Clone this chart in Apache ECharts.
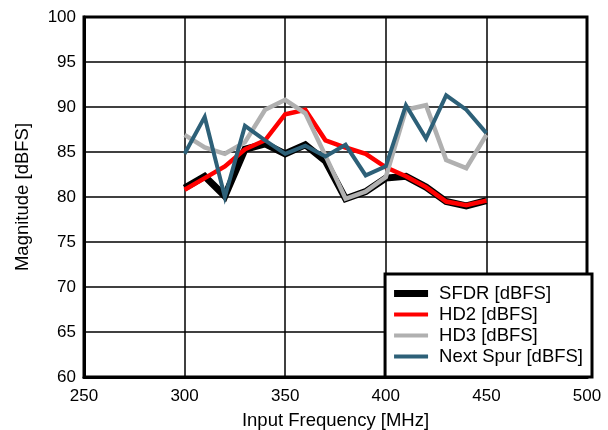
<!DOCTYPE html>
<html>
<head>
<meta charset="utf-8">
<script src="https://cdn.jsdelivr.net/npm/echarts@6/dist/echarts.min.js"></script>
<style>
  html, body { margin: 0; padding: 0; background: #fff; }
  #chart { width: 608px; height: 430px; }
</style>
</head>
<body>
<div id="chart"></div>
<script>
// Input frequency (MHz)
const freq = [300, 310, 320, 330, 340, 350, 360, 370, 380, 390, 400, 410, 420, 430, 440, 450];
// Magnitudes (dBFS)
const sfdr = [81.0, 82.3, 80.1, 85.3, 85.9, 84.8, 85.8, 84.0, 79.8, 80.6, 82.1, 82.3, 81.1, 79.5, 79.0, 79.6];
const hd2 = [80.8, 82.1, 83.4, 85.3, 86.3, 89.2, 89.7, 86.3, 85.5, 84.8, 83.3, 82.3, 81.1, 79.5, 79.1, 79.6];
const hd3 = [86.9, 85.5, 84.8, 86.1, 89.7, 90.8, 89.3, 84.6, 79.8, 80.6, 82.2, 89.7, 90.2, 84.1, 83.2, 86.9];
const nextSpur = [84.8, 88.9, 80.0, 87.9, 86.3, 84.8, 85.7, 84.5, 85.8, 82.4, 83.4, 90.2, 86.5, 91.3, 89.7, 87.1];

const seriesNames = ['SFDR [dBFS]', 'HD2 [dBFS]', 'HD3 [dBFS]', 'Next Spur [dBFS]'];

function pairs(ys) {
  return freq.map((f, i) => [f, ys[i]]);
}

function lineSeries(name, ys, color, width) {
  return {
    name: name,
    type: 'line',
    data: pairs(ys),
    symbol: 'none',
    lineStyle: { color: color, width: width, join: 'miter' },
    itemStyle: { color: color },
    emphasis: { disabled: true }
  };
}

// legend swatch: a flat bar, thickness follows the series line
function swatch(h) {
  return 'path://M0,0 L34,0 L34,' + h + ' L0,' + h + ' Z';
}

const font = 'Liberation Sans, Arial, sans-serif';

let myChart = echarts.init(document.getElementById('chart'));
myChart.setOption({
  animation: false,
  grid: {
    left: 84, right: 21, top: 17, bottom: 53,
    outerBoundsMode: 'none',
    containLabel: false,
    show: true, borderColor: '#000', borderWidth: 3, backgroundColor: 'transparent'
  },
  xAxis: {
    type: 'value',
    min: 250, max: 500, interval: 50,
    name: 'Input Frequency [MHz]',
    nameLocation: 'middle',
    nameGap: 34,
    nameTextStyle: { fontFamily: font, fontSize: 18.5, color: '#000' },
    axisLine: { show: true, lineStyle: { color: '#000', width: 3 } },
    axisTick: { show: false },
    axisLabel: { fontFamily: font, fontSize: 17, color: '#000', margin: 11 },
    splitLine: { show: true, lineStyle: { color: '#000', width: 1.5 } }
  },
  yAxis: {
    type: 'value',
    min: 60, max: 100, interval: 5,
    name: 'Magnitude [dBFS]',
    nameLocation: 'middle',
    nameGap: 52,
    nameTextStyle: { fontFamily: font, fontSize: 18.5, color: '#000' },
    axisLine: { show: true, lineStyle: { color: '#000', width: 3 } },
    axisTick: { show: false },
    axisLabel: { fontFamily: font, fontSize: 17, color: '#000', margin: 8 },
    splitLine: { show: true, lineStyle: { color: '#000', width: 1.5 } }
  },
  legend: {
    orient: 'vertical',
    right: 16,
    bottom: 53,
    backgroundColor: '#fff',
    borderColor: '#000',
    borderWidth: 3,
    borderRadius: 0,
    padding: [9, 9, 10, 9],
    itemWidth: 34,
    itemHeight: 14,
    itemGap: 0,
    data: [
      { name: seriesNames[0], icon: swatch(7) },
      { name: seriesNames[1], icon: swatch(4) },
      { name: seriesNames[2], icon: swatch(4) },
      { name: seriesNames[3], icon: swatch(4) }
    ],
    textStyle: { fontFamily: font, fontSize: 18.5, lineHeight: 21, color: '#000', padding: [0, 0, 0, 6] }
  },
  series: [
    lineSeries(seriesNames[0], sfdr, '#000000', 7),
    lineSeries(seriesNames[1], hd2, '#ff0000', 4.5),
    lineSeries(seriesNames[2], hd3, '#b0b0b0', 4.5),
    lineSeries(seriesNames[3], nextSpur, '#2d6078', 4)
  ]
});
</script>
</body>
</html>
